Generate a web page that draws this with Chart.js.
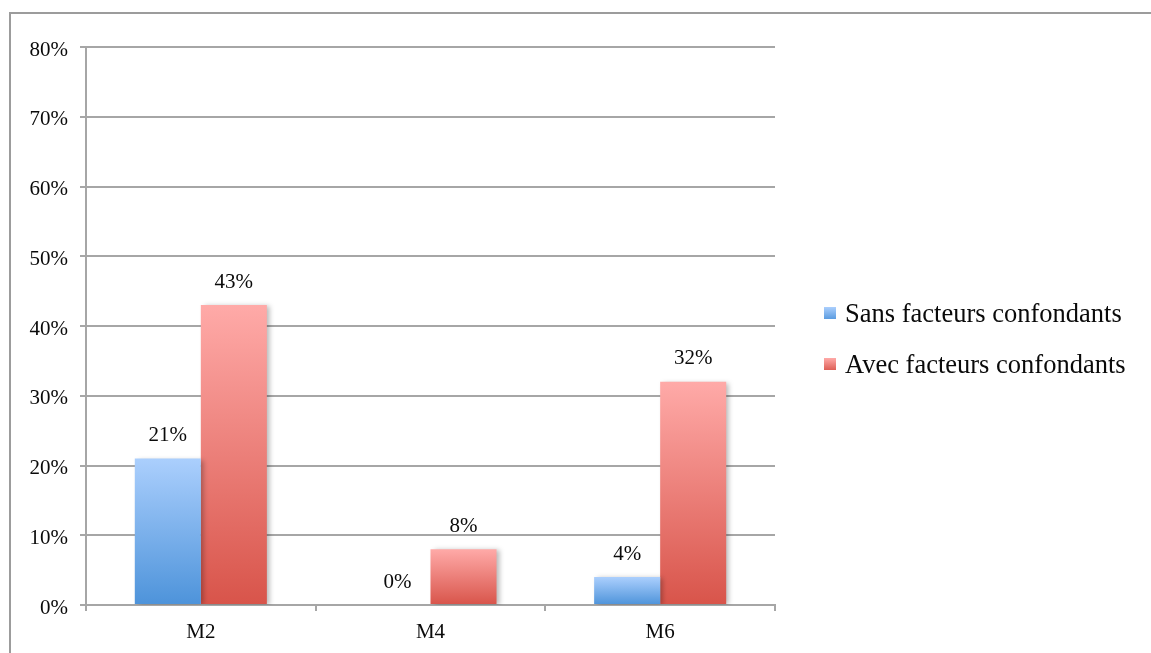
<!DOCTYPE html>
<html>
<head>
<meta charset="utf-8">
<script src="https://cdn.jsdelivr.net/npm/chart.js@4"></script>
<style>
  html, body { margin: 0; padding: 0; background: #fff; }
  #wrap { position: relative; width: 1151px; height: 653px; overflow: hidden; }
  #frame { position: absolute; left: 9px; top: 12px; width: 1400px; height: 900px; border: 2px solid #9c9c9c; }
  #chart { position: absolute; left: 0; top: 0; }
</style>
</head>
<body>
<div id="wrap">
  <div id="frame"></div>
  <canvas id="chart" width="1151" height="653"></canvas>
</div>
<script>
// Données du graphique
const categories = ['M2', 'M4', 'M6'];
const seriesNames = ['Sans facteurs confondants', 'Avec facteurs confondants'];
const sansValues = [21, 0, 4];
const avecValues = [43, 8, 32];
const yMax = 80;
const yStep = 10;

const FONT = '"Liberation Serif", "Times New Roman", serif';
const GRID = '#a6a6a6';
const TEXT = '#0a0a0a';

// Dégradé vertical par barre (clair en haut, foncé en bas)
function barGradient(topColor, bottomColor) {
  return function(context) {
    const chart = context.chart;
    if (!chart.chartArea || context.type !== 'data') return bottomColor;
    const y = chart.scales.y;
    const y0 = y.getPixelForValue(context.parsed.y);
    const y1 = y.getPixelForValue(0);
    if (y1 - y0 < 1) return bottomColor;
    const g = chart.ctx.createLinearGradient(0, y0, 0, y1);
    g.addColorStop(0, topColor);
    g.addColorStop(1, bottomColor);
    return g;
  };
}

const colors = [
  { top: '#abcffd', bottom: '#4d93da', legendTop: '#abcffd', legendBottom: '#5b9ce0' },
  { top: '#ffaaa8', bottom: '#d8544a', legendTop: '#ffaaa8', legendBottom: '#dd5f56' }
];

// Ombre légère sous les barres
const barShadow = {
  id: 'barShadow',
  beforeDatasetsDraw(chart) {
    const c = chart.ctx;
    c.save();
    c.shadowColor = 'rgba(0,0,0,0.28)';
    c.shadowBlur = 5;
    c.shadowOffsetX = 3;
    c.shadowOffsetY = 1;
  },
  afterDatasetsDraw(chart) {
    chart.ctx.restore();
  }
};

// Étiquettes de valeur au-dessus des barres
const valueLabels = {
  id: 'valueLabels',
  afterDraw(chart) {
    const c = chart.ctx;
    c.save();
    c.font = '21px ' + FONT;
    c.fillStyle = TEXT;
    c.textAlign = 'center';
    c.textBaseline = 'middle';
    chart.data.datasets.forEach((ds, i) => {
      chart.getDatasetMeta(i).data.forEach((bar, j) => {
        c.fillText(ds.data[j] + '%', bar.x, bar.y - 23);
      });
    });
    c.restore();
  }
};

// Légende à droite
const sideLegend = {
  id: 'sideLegend',
  afterDraw(chart) {
    const c = chart.ctx;
    const x = chart.chartArea.right + 49;
    c.save();
    c.font = '26.5px ' + FONT;
    c.textBaseline = 'middle';
    chart.data.datasets.forEach((ds, i) => {
      const cy = 313 + i * 51;
      const g = c.createLinearGradient(0, cy - 6, 0, cy + 6);
      g.addColorStop(0, colors[i].legendTop);
      g.addColorStop(1, colors[i].legendBottom);
      c.fillStyle = g;
      c.fillRect(x, cy - 6, 12, 12);
      c.fillStyle = TEXT;
      c.fillText(ds.label, x + 21, cy + 2);
    });
    c.restore();
  }
};

new Chart(document.getElementById('chart'), {
  type: 'bar',
  data: {
    labels: categories,
    datasets: [
      {
        label: seriesNames[0],
        data: sansValues,
        backgroundColor: barGradient(colors[0].top, colors[0].bottom),
        borderWidth: 0,
        categoryPercentage: 0.575,
        barPercentage: 1
      },
      {
        label: seriesNames[1],
        data: avecValues,
        backgroundColor: barGradient(colors[1].top, colors[1].bottom),
        borderWidth: 0,
        categoryPercentage: 0.575,
        barPercentage: 1
      }
    ]
  },
  options: {
    responsive: false,
    animation: false,
    layout: { padding: { left: 0, top: 47, right: 376, bottom: 0 } },
    plugins: {
      legend: { display: false },
      tooltip: { enabled: false }
    },
    scales: {
      x: {
        grid: { offset: true, drawOnChartArea: false, color: GRID, lineWidth: 2, tickLength: 6 },
        border: { display: true, color: GRID, width: 2 },
        ticks: { color: TEXT, font: { family: FONT, size: 21 }, padding: 9 },
        afterFit(scale) { scale.height = 48; }
      },
      y: {
        min: 0,
        max: yMax,
        grid: { color: GRID, lineWidth: 2, tickLength: 6 },
        border: { display: true, color: GRID, width: 2 },
        ticks: {
          stepSize: yStep,
          color: TEXT,
          font: { family: FONT, size: 21 },
          padding: 12,
          labelOffset: 3,
          callback: v => v + '%'
        },
        afterFit(scale) { scale.width = 86; }
      }
    }
  },
  plugins: [barShadow, valueLabels, sideLegend]
});
</script>
</body>
</html>
